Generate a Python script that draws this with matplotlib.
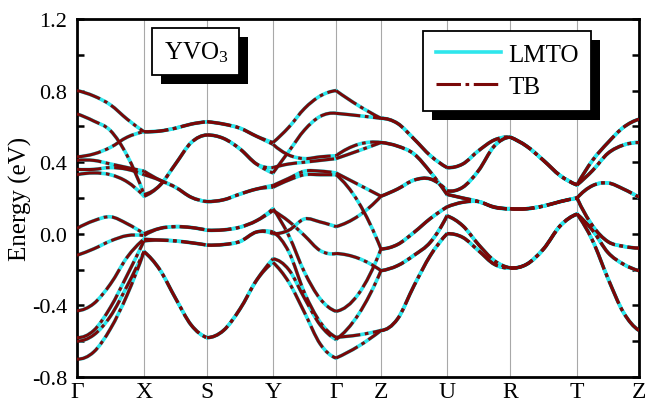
import numpy as np
import matplotlib
matplotlib.use('Agg')
import matplotlib.pyplot as plt
from matplotlib.patches import Rectangle, PathPatch
from matplotlib.path import Path
from matplotlib.lines import Line2D
from matplotlib.transforms import IdentityTransform

# ---------------- data ----------------
kpt_labels = ['Γ', 'X', 'S', 'Y', 'Γ', 'Z', 'U', 'R', 'T', 'Z']
kpt_dist = [0, 67, 130, 196, 259, 304, 370, 433, 500, 562]

# each segment: rows = points read along the path (start, 1/4, 1/2, 3/4, end),
# columns = the 12 bands (energies in eV)
seg_GX = [[0.80, 0.67, 0.43, 0.41, 0.36, 0.33, 0.03, -0.12, -0.43, -0.58, -0.60, -0.70],
          [0.77, 0.63, 0.446, 0.41, 0.36, 0.34, 0.073, -0.084, -0.39, -0.54, -0.565, -0.66],
          [0.72, 0.576, 0.483, 0.39, 0.37, 0.33, 0.095, -0.04, -0.28, -0.41, -0.46, -0.53],
          [0.64, 0.436, 0.54, 0.37, 0.36, 0.29, 0.056, -0.01, -0.13, -0.23, -0.29, -0.34],
          [0.57, 0.22, 0.57, 0.35, 0.33, 0.21, 0.00, -0.01, -0.03, -0.04, -0.10, -0.10]]
seg_XS = [[0.57, 0.57, 0.22, 0.21, 0.35, 0.33, 0.00, -0.01, -0.03, -0.04, -0.10, -0.10],
          [0.574, 0.574, 0.27, 0.27, 0.30, 0.30, 0.03, 0.03, -0.035, -0.035, -0.20, -0.20],
          [0.59, 0.59, 0.39, 0.39, 0.26, 0.26, 0.04, 0.04, -0.04, -0.04, -0.36, -0.36],
          [0.613, 0.613, 0.51, 0.51, 0.204, 0.204, 0.035, 0.035, -0.05, -0.05, -0.51, -0.51],
          [0.626, 0.626, 0.552, 0.552, 0.18, 0.18, 0.02, 0.02, -0.063, -0.063, -0.58, -0.58]]
seg_SY = [[0.626, 0.626, 0.552, 0.552, 0.18, 0.18, 0.02, 0.02, -0.063, -0.063, -0.58, -0.58],
          [0.613, 0.613, 0.533, 0.533, 0.19, 0.19, 0.022, 0.022, -0.06, -0.06, -0.54, -0.54],
          [0.59, 0.59, 0.474, 0.474, 0.222, 0.222, 0.037, 0.037, -0.043, -0.043, -0.42, -0.42],
          [0.545, 0.545, 0.39, 0.39, 0.25, 0.25, 0.073, 0.073, 0.01, 0.01, -0.26, -0.26],
          [0.51, 0.50, 0.34, 0.37, 0.27, 0.26, 0.14, 0.13, 0.01, 0.00, -0.14, -0.16]]
seg_YG = [[0.51, 0.34, 0.50, 0.37, 0.27, 0.26, 0.00, 0.13, 0.14, 0.01, -0.14, -0.16],
          [0.595, 0.46, 0.44, 0.39, 0.31, 0.30, 0.02, 0.07, -0.01, -0.10, -0.20, -0.27],
          [0.70, 0.58, 0.42, 0.40, 0.35, 0.33, 0.083, -0.01, -0.215, -0.33, -0.36, -0.44],
          [0.77, 0.656, 0.43, 0.41, 0.35, 0.33, 0.066, -0.094, -0.364, -0.494, -0.51, -0.616],
          [0.80, 0.673, 0.436, 0.42, 0.34, 0.33, 0.04, -0.11, -0.433, -0.578, -0.59, -0.694]]
seg_GZ = [[0.80, 0.673, 0.436, 0.42, 0.34, 0.33, 0.04, -0.11, -0.433, -0.578, -0.59, -0.694],
          [0.716, 0.66, 0.50, 0.464, 0.275, 0.176, 0.10, -0.137, -0.336, -0.565, -0.45, -0.628],
          [0.645, 0.645, 0.51, 0.51, 0.21, -0.085, 0.21, -0.206, -0.085, -0.54, -0.206, -0.54]]
seg_ZU = [[0.645, 0.645, 0.51, 0.51, 0.21, 0.21, -0.085, -0.085, -0.206, -0.206, -0.54, -0.54],
          [0.617, 0.617, 0.49, 0.49, 0.25, 0.25, -0.06, -0.06, -0.178, -0.178, -0.476, -0.476],
          [0.53, 0.53, 0.446, 0.446, 0.30, 0.30, 0.008, 0.008, -0.12, -0.12, -0.29, -0.29],
          [0.436, 0.436, 0.344, 0.344, 0.306, 0.306, 0.086, 0.086, -0.046, -0.046, -0.12, -0.12],
          [0.37, 0.37, 0.22, 0.22, 0.24, 0.24, 0.15, 0.15, 0.10, 0.10, 0.00, 0.00]]
seg_UR = [[0.37, 0.37, 0.24, 0.24, 0.22, 0.22, 0.15, 0.15, 0.10, 0.10, 0.00, 0.00],
          [0.39, 0.39, 0.26, 0.26, 0.20, 0.20, 0.176, 0.176, 0.045, 0.045, -0.02, -0.02],
          [0.464, 0.464, 0.353, 0.353, 0.18, 0.18, 0.18, 0.18, -0.06, -0.06, -0.094, -0.094],
          [0.524, 0.524, 0.49, 0.49, 0.15, 0.15, 0.148, 0.148, -0.15, -0.15, -0.17, -0.17],
          [0.54, 0.54, 0.54, 0.54, 0.14, 0.14, 0.14, 0.14, -0.19, -0.19, -0.19, -0.19]]
seg_RT = [[0.54, 0.54, 0.54, 0.54, 0.14, 0.14, 0.14, 0.14, -0.19, -0.19, -0.19, -0.19],
          [0.489, 0.489, 0.489, 0.489, 0.14, 0.14, 0.14, 0.14, -0.17, -0.17, -0.17, -0.17],
          [0.41, 0.41, 0.41, 0.41, 0.155, 0.155, 0.155, 0.155, -0.085, -0.085, -0.085, -0.085],
          [0.325, 0.325, 0.325, 0.325, 0.18, 0.18, 0.18, 0.18, 0.045, 0.045, 0.045, 0.045],
          [0.273, 0.273, 0.273, 0.273, 0.20, 0.20, 0.20, 0.20, 0.11, 0.11, 0.11, 0.11]]
seg_TZ = [[0.273, 0.273, 0.273, 0.273, 0.20, 0.20, 0.20, 0.20, 0.11, 0.11, 0.11, 0.11],
          [0.41, 0.41, 0.353, 0.353, 0.269, 0.269, 0.045, 0.045, 0.02, 0.02, -0.037, -0.037],
          [0.51, 0.51, 0.45, 0.45, 0.284, 0.284, -0.044, -0.044, -0.105, -0.105, -0.25, -0.25],
          [0.595, 0.595, 0.496, 0.496, 0.25, 0.25, -0.07, -0.07, -0.17, -0.17, -0.44, -0.44],
          [0.64, 0.64, 0.51, 0.51, 0.204, 0.204, -0.08, -0.08, -0.206, -0.206, -0.54, -0.54]]
segments = [seg_GX, seg_XS, seg_SY, seg_YG, seg_GZ, seg_ZU, seg_UR, seg_RT, seg_TZ]

# ---------------- style ----------------
plt.rcParams['font.family'] = ['Liberation Serif', 'DejaVu Serif']
plt.rcParams['mathtext.fontset'] = 'custom'
plt.rcParams['mathtext.rm'] = 'Liberation Serif'
plt.rcParams['mathtext.it'] = 'Liberation Serif:italic'

CYAN = '#2ee6ec'
RED = '#7a0808'
TB_DASH = (8, 1.5, 1.2, 1.5)


def smooth_path(x, y):
    """Cubic (Hermite/Bezier) path through the read points."""
    n = len(x)
    m = np.zeros(n)
    for i in range(n):
        if i == 0:
            h = x[1] - x[0]
            m[i] = (-3 * y[0] + 4 * y[1] - y[2]) / (2 * h)
        elif i == n - 1:
            h = x[-1] - x[-2]
            m[i] = (3 * y[-1] - 4 * y[-2] + y[-3]) / (2 * h)
        else:
            m[i] = (y[i + 1] - y[i - 1]) / (x[i + 1] - x[i - 1])
    verts = [(x[0], y[0])]
    codes = [Path.MOVETO]
    for i in range(n - 1):
        h = x[i + 1] - x[i]
        verts += [(x[i] + h / 3, y[i] + m[i] * h / 3),
                  (x[i + 1] - h / 3, y[i + 1] - m[i + 1] * h / 3),
                  (x[i + 1], y[i + 1])]
        codes += [Path.CURVE4] * 3
    return Path(verts, codes)


fig = plt.figure(figsize=(6.45, 4.06), dpi=100)
ax = fig.add_axes([77 / 645, 1 - 378 / 406, (639 - 77) / 645, (378 - 20) / 406])

for kx in kpt_dist[1:-1]:
    ax.axvline(kx, color='#a8a8a8', lw=0.8, zorder=1)

for s, seg in enumerate(segments):
    E = np.array(seg)
    ks = np.linspace(kpt_dist[s], kpt_dist[s + 1], E.shape[0])
    for b in range(E.shape[1]):
        p = smooth_path(ks, E[:, b])
        ax.add_patch(PathPatch(p, fill=False, edgecolor=CYAN, lw=2.6, zorder=2,
                               capstyle='round', joinstyle='round'))
        ax.add_patch(PathPatch(p, fill=False, edgecolor=RED, lw=2.2, zorder=3,
                               linestyle=(0, TB_DASH), capstyle='butt'))

ax.set_xlim(kpt_dist[0], kpt_dist[-1])
ax.set_ylim(-0.8, 1.2)
ax.set_xticks(kpt_dist)
ax.set_xticklabels(kpt_labels, fontsize=17)
ax.tick_params(axis='x', length=0, pad=3)
yt = np.round(np.arange(-0.8, 1.21, 0.2), 1)
ax.set_yticks(yt)
ax.set_yticklabels([f'{v + 0.0:.1f}'.replace('-0.0', '0.0') if i % 2 == 0 else ''
                    for i, v in enumerate(yt)], fontsize=16)
ax.tick_params(axis='y', direction='in', length=5, width=1.8, right=True, pad=7)
for sp in ax.spines.values():
    sp.set_linewidth(2.0)
ax.set_ylabel('Energy (eV)', fontsize=18, labelpad=0)

h_lmto = Line2D([], [], color=CYAN, lw=2.6)
h_tb = Line2D([], [], color=RED, lw=2.2, dashes=TB_DASH)
leg = ax.legend([h_lmto, h_tb], ['LMTO', 'TB'], loc='upper left',
                bbox_to_anchor=(0.616, 0.966), borderaxespad=0, fontsize=18,
                handlelength=2.6, handletextpad=0.3, borderpad=0.5,
                labelspacing=0.38, fancybox=False, framealpha=1, edgecolor='black')
leg.get_frame().set_linewidth(1.3)
leg.set_zorder(10)

txt = ax.text(0.2117, 0.909, 'YVO$_\\mathrm{3}$', transform=ax.transAxes, fontsize=18,
              ha='center', va='center', zorder=10,
              bbox=dict(boxstyle='square,pad=0.45', fc='white', ec='black', lw=1.3))

fig.canvas.draw()
for bb in [leg.get_frame().get_window_extent(), txt.get_bbox_patch().get_window_extent()]:
    ax.add_patch(Rectangle((bb.x0 + 9, bb.y0 - 9), bb.width, bb.height,
                           transform=IdentityTransform(), facecolor='black',
                           edgecolor='none', zorder=9, clip_on=False))

fig.savefig('out.png', dpi=100)
